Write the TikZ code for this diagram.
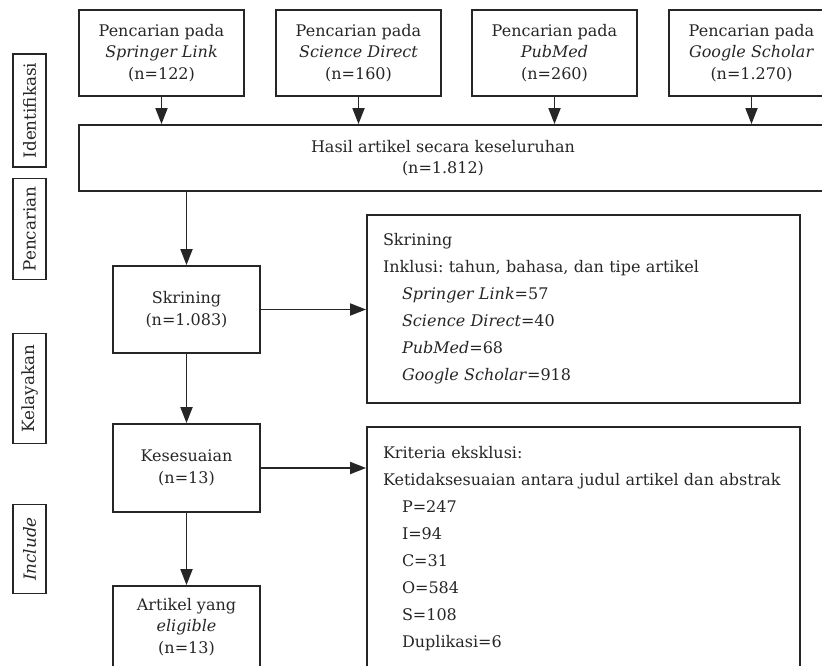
\documentclass[tikz,border=0pt]{standalone}
\usepackage{fontspec}
\setmainfont{DejaVu Serif}
\frenchspacing
\usetikzlibrary{arrows.meta,positioning}

\begin{document}
\begin{tikzpicture}[x=1pt, y=-1pt, line width=1.8pt, color=black!85,
		  box/.style={draw, align=center, inner sep=0pt, font=\fontsize{16}{21.5}\selectfont},
		  search box/.style={box, minimum width=165pt, minimum height=86pt},
		  step box/.style={box, minimum width=147pt, minimum height=87pt},
		  list box/.style={draw, align=left, text width=401pt, inner xsep=16pt, inner ysep=12pt, font=\fontsize{16}{27}\selectfont},
		  phase/.style={draw, rotate=90, minimum height=33pt, inner sep=0pt, font=\fontsize{16.8}{18}\selectfont},
		  flow/.style={-{Triangle[length=16pt,width=12pt]}}]
		  \useasboundingbox (0,0) rectangle (822,666);
		  \clip (0,0) rectangle (822,666);
		  % fase di sebelah kiri
		  \node[phase, minimum width=113pt] (identifikasi) at (29.5,110.5) {Identifikasi};
		  \node[phase, minimum width=101pt] (pencarian) at (29.5,229) {Pencarian};
		  \node[phase, minimum width=110pt] (kelayakan) at (29.5,388.5) {Kelayakan};
		  \node[phase, minimum width=89pt] (include) at (29.5,549) {\textit{Include}};
		  % sumber pencarian
		  \foreach \i/\x/\db/\n in {1/161.5/Springer Link/122, 2/358.5/Science Direct/160, 3/554.5/PubMed/260, 4/751.5/Google Scholar/1.270}{
		      \node[search box] (src\i) at (\x,53) {Pencarian pada\\\textit{\db}\\(n=\n)};
		  }
		  \draw (79,125) rectangle (840,191);
		  \node[align=center, minimum height=66pt, inner sep=0pt, font=\fontsize{16}{21.5}\selectfont] (hasil) at (443,158) {Hasil artikel secara keseluruhan\\(n=1.812)};
		  \foreach \i in {1,...,4}{
		      \draw[flow] (src\i) -- (src\i.south |- hasil.north);
		  }
		  % alur seleksi
		  \node[step box] (skrining) at (186.5,309.5) {Skrining\\(n=1.083)};
		  \node[step box, minimum height=88pt] (kesesuaian) at (186.5,468) {Kesesuaian\\(n=13)};
		  \node[step box, minimum height=82pt] (artikel) at (186.5,627) {Artikel yang\\\textit{eligible}\\(n=13)};
		  \node[list box, minimum height=188pt] (inklusi) at (583.5,309) {Skrining\\
		      Inklusi: tahun, bahasa, dan tipe artikel\\
		      \hspace*{19pt}\textit{Springer Link}=57\\
		      \hspace*{19pt}\textit{Science Direct}=40\\
		      \hspace*{19pt}\textit{PubMed}=68\\
		      \hspace*{19pt}\textit{Google Scholar}=918};
		  \node[list box, minimum height=243pt] (eksklusi) at (583.5,548.5) {Kriteria eksklusi:\\
		      Ketidaksesuaian antara judul artikel dan abstrak\\
		      \hspace*{19pt}P=247\\
		      \hspace*{19pt}I=94\\
		      \hspace*{19pt}C=31\\
		      \hspace*{19pt}O=584\\
		      \hspace*{19pt}S=108\\
		      \hspace*{19pt}Duplikasi=6};
		  \draw[flow] (skrining.north |- hasil.south) -- (skrining);
		  \draw[flow] (skrining) -- (kesesuaian);
		  \draw[flow] (kesesuaian) -- (artikel);
		  \draw[flow] (skrining.east) -- (skrining.east -| inklusi.west);
		  \draw[flow] (kesesuaian.east) -- (kesesuaian.east -| eksklusi.west);
	\end{tikzpicture}
\end{document}
